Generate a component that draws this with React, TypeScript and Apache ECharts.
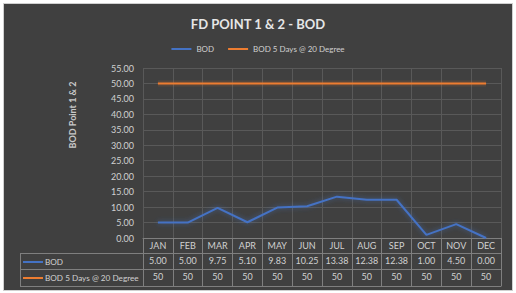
import React, { useEffect, useRef } from "react";
import * as echarts from "echarts";

const months = ["JAN", "FEB", "MAR", "APR", "MAY", "JUN", "JUL", "AUG", "SEP", "OCT", "NOV", "DEC"];
const bod = [5.0, 5.0, 9.75, 5.1, 9.83, 10.25, 13.38, 12.38, 12.38, 1.0, 4.5, 0.0];
const bod5 = [50, 50, 50, 50, 50, 50, 50, 50, 50, 50, 50, 50];
const seriesNames = ["BOD", "BOD 5 Days @ 20 Degree"];
const colors = ["#4472C4", "#ED7D31"];

const FONT = "Lato";
const TXT = "#d0d0d0";
const TABLE_LINE = "#7f7f7f";
const GRID_LINE = "#595959";

export default function App() {
  const ref = useRef<HTMLDivElement>(null);
  useEffect(() => {
    if (!ref.current) return;
    const chart = echarts.init(ref.current, undefined, { renderer: "svg" });
    const tableAxis = (data: string[], offset: number, tickLen: number, showLabel: boolean, showTick: boolean) => ({
      type: "category",
      data,
      position: "bottom",
      offset,
      boundaryGap: true,
      axisLine: { show: true, lineStyle: { color: TABLE_LINE, width: 1 } },
      axisTick: { show: showTick, length: tickLen, interval: 0, lineStyle: { color: TABLE_LINE } },
      axisLabel: { show: showLabel, interval: 0, margin: 3, fontSize: 9, color: TXT, fontFamily: FONT },
      splitLine: { show: false },
    });
    const x0: any = tableAxis(months, 0, 15, true, true);
    x0.splitLine = { show: true, interval: 0, lineStyle: { color: GRID_LINE, width: 1 } };
    const rowLines = [253, 269, 286];
    chart.setOption({
      animation: false,
      textStyle: { fontFamily: FONT },
      title: {
        text: "FD POINT 1 & 2 - BOD",
        left: "center",
        top: 12,
        textStyle: { fontSize: 13, fontWeight: "bold", color: "#e6e6e6", fontFamily: FONT },
      },
      legend: {
        data: seriesNames,
        top: 40,
        left: "center",
        icon: "rect",
        itemWidth: 20,
        itemHeight: 2,
        itemGap: 14,
        textStyle: { fontSize: 8, color: TXT, fontFamily: FONT },
      },
      grid: { left: 143, right: 15, top: 68, bottom: 55, containLabel: false },
      xAxis: [
        x0,
        tableAxis(bod.map((v) => v.toFixed(2)), 15, 16, true, true),
        tableAxis(bod5.map((v) => String(v)), 31, 17, true, true),
        tableAxis(months, 48, 0, false, false),
      ],
      yAxis: {
        type: "value",
        min: 0,
        max: 55,
        interval: 5,
        axisLine: { show: false },
        axisTick: { show: false },
        axisLabel: { margin: 9, fontSize: 9, color: TXT, fontFamily: FONT, formatter: (v: number) => v.toFixed(2) },
        splitLine: { lineStyle: { color: GRID_LINE, width: 1 } },
      },
      series: [
        {
          name: seriesNames[1] + " glow",
          type: "line",
          data: bod5,
          symbol: "none",
          silent: true,
          lineStyle: { width: 6, color: "rgba(237,125,49,0.13)" },
        },
        {
          name: seriesNames[0],
          type: "line",
          data: bod,
          symbol: "none",
          color: colors[0],
          lineStyle: { width: 2, color: colors[0], shadowColor: "rgba(68,114,196,0.6)", shadowBlur: 5 },
        },
        {
          name: seriesNames[1],
          type: "line",
          data: bod5,
          symbol: "none",
          color: colors[1],
          lineStyle: { width: 2, color: colors[1] },
        },
      ],
      graphic: [
        ...rowLines.map((y) => ({
          type: "line",
          silent: true,
          shape: { x1: 20, y1: y + 0.5, x2: 143, y2: y + 0.5 },
          style: { stroke: TABLE_LINE, lineWidth: 1 },
        })),
        {
          type: "line",
          silent: true,
          shape: { x1: 20.5, y1: 253, x2: 20.5, y2: 287 },
          style: { stroke: TABLE_LINE, lineWidth: 1 },
        },
        {
          type: "line",
          silent: true,
          shape: { x1: 143.5, y1: 253, x2: 143.5, y2: 287 },
          style: { stroke: TABLE_LINE, lineWidth: 1 },
        },
        ...seriesNames.flatMap((name, i) => [
          {
            type: "line",
            silent: true,
            shape: { x1: 23, y1: 262 + i * 16, x2: 43, y2: 262 + i * 16 },
            style: { stroke: colors[i], lineWidth: 2 },
          },
          {
            type: "text",
            silent: true,
            x: 45,
            y: 262 + i * 16,
            style: { text: name, fill: TXT, fontSize: 8.2, fontFamily: FONT, verticalAlign: "middle", align: "left" },
          },
        ]),
        {
          type: "text",
          silent: true,
          x: 72,
          y: 115,
          rotation: Math.PI / 2,
          style: {
            text: "BOD Point 1 & 2",
            fill: "#c8c8c8",
            fontSize: 9,
            fontWeight: "bold",
            fontFamily: FONT,
            align: "center",
            verticalAlign: "middle",
          },
        },
      ],
    });
    return () => chart.dispose();
  }, []);

  return (
    <div style={{ position: "fixed", left: 0, top: 0, width: 516, height: 293, background: "#ffffff" }}>
      <div
        style={{
          position: "absolute",
          left: 3,
          top: 3,
          width: 508,
          height: 286,
          background: "#404040",
          border: "1px solid #d0d0d0",
        }}
      />
      <div ref={ref} style={{ position: "absolute", left: 0, top: 0, width: 516, height: 293 }} />
    </div>
  );
}
